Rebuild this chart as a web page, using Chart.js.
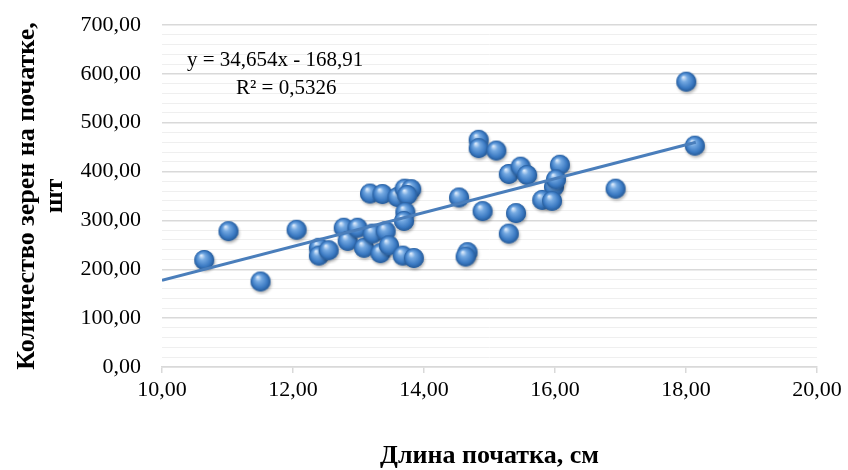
<!DOCTYPE html>
<html>
<head>
<meta charset="utf-8">
<script src="https://cdn.jsdelivr.net/npm/chart.js@4/dist/chart.umd.min.js"></script>
<style>
  html, body { margin: 0; padding: 0; background: #fff; overflow: hidden; }
</style>
</head>
<body>
<canvas id="chart" width="848" height="470"></canvas>
<script>
// длина початка, см
const lengths = [10.66, 11.03, 11.52, 12.07, 12.41, 12.41, 12.56, 12.79, 12.85, 13.00,
                 13.10, 13.19, 13.23, 13.35, 13.38, 13.43, 13.48, 13.61, 13.72, 13.82,
                 13.76, 13.73, 13.71, 13.69, 13.86, 14.55, 14.85, 14.85, 15.12, 14.91,
                 14.68, 14.65, 15.31, 15.49, 15.59, 15.42, 15.31, 16.09, 16.00, 16.03,
                 15.82, 15.97, 16.94, 18.02, 18.15];
// количество зерен на початке, шт
const grains = [217, 276, 173, 279, 242, 226, 237, 283, 256, 283,
                242, 353, 271, 231, 352, 276, 247, 346, 363, 362,
                350, 315, 297, 226, 221, 345, 463, 446, 441, 317,
                233, 224, 393, 408, 391, 313, 271, 412, 367, 382,
                340, 338, 363, 582, 451];

const trendSlope = 34.654;
const trendIntercept = -168.91;
const trendX = [10, 18.15];
const trendLabels = ['y = 34,654x - 168,91', 'R² = 0,5326'];

const xTicks = [10, 12, 14, 16, 18, 20];
const yTicks = [0, 100, 200, 300, 400, 500, 600, 700];

const fmt = v => v.toFixed(2).replace('.', ',');
const serif = '"Liberation Serif", "Times New Roman", serif';

// шарик как в Excel
function makeBall(r) {
    const size = r * 2 + 6;
    const c = document.createElement('canvas');
    c.width = size; c.height = size;
    const ctx = c.getContext('2d');
    const cx = size / 2 - 1, cy = size / 2 - 1;
    ctx.save();
    ctx.shadowColor = 'rgba(0,0,0,0.3)';
    ctx.shadowBlur = 3;
    ctx.shadowOffsetX = 1;
    ctx.shadowOffsetY = 2;
    ctx.beginPath();
    ctx.arc(cx, cy, r, 0, Math.PI * 2);
    ctx.fillStyle = '#3b78c0';
    ctx.fill();
    ctx.restore();
    const g = ctx.createRadialGradient(cx - r * 0.3, cy - r * 0.45, 0.5, cx, cy, r);
    g.addColorStop(0, '#dbeafb');
    g.addColorStop(0.3, '#74a9e2');
    g.addColorStop(0.75, '#3a79c2');
    g.addColorStop(1, '#255996');
    ctx.beginPath();
    ctx.arc(cx, cy, r, 0, Math.PI * 2);
    ctx.fillStyle = g;
    ctx.fill();
    return c;
}
const ball = makeBall(10);

const equationText = {
    id: 'equationText',
    afterDraw(chart) {
        const ctx = chart.ctx;
        ctx.save();
        ctx.fillStyle = '#000';
        ctx.font = '21px ' + serif;
        ctx.textBaseline = 'middle';
        ctx.textAlign = 'left';
        ctx.fillText(trendLabels[0], 187, 60);
        ctx.fillText(trendLabels[1], 236, 88);
        ctx.restore();
    }
};

new Chart(document.getElementById('chart').getContext('2d'), {
    type: 'scatter',
    data: {
        datasets: [
            {
                label: 'trend',
                type: 'line',
                data: trendX.map(x => ({ x: x, y: trendSlope * x + trendIntercept })),
                borderColor: '#4a7ebb',
                borderWidth: 3,
                pointRadius: 0,
                fill: false,
                order: 0
            },
            {
                label: 'points',
                data: lengths.map((x, i) => ({ x: x, y: grains[i] })),
                pointStyle: ball,
                pointRadius: 10,
                order: 1
            }
        ]
    },
    options: {
        responsive: false,
        animation: false,
        devicePixelRatio: 1,
        layout: { padding: { top: 25, right: 31, left: 0, bottom: 0 } },
        plugins: { legend: { display: false }, tooltip: { enabled: false } },
        scales: {
            x: {
                type: 'linear',
                min: 10,
                max: 20,
                afterBuildTicks: s => { s.ticks = xTicks.map(v => ({ value: v })); },
                afterFit: s => { s.height = 103; },
                grid: { color: 'rgba(0,0,0,0)', tickColor: '#d9d9d9', tickLength: 6, lineWidth: 1.5 },
                border: { color: '#d9d9d9', width: 1.5 },
                ticks: {
                    color: '#000',
                    padding: 4,
                    font: { family: serif, size: 22 },
                    callback: v => fmt(v)
                },
                title: {
                    display: true,
                    text: 'Длина початка, см',
                    color: '#000',
                    font: { family: serif, size: 26, weight: 'bold', lineHeight: 1.0 },
                    padding: { top: 0, bottom: 1 }
                }
            },
            y: {
                min: 0,
                max: 700,
                afterFit: s => { s.width = 162; },
                ticks: {
                    stepSize: 20,
                    autoSkip: false,
                    color: '#000',
                    padding: 0,
                    font: { family: serif, size: 22 },
                    callback: v => (yTicks.includes(v) ? fmt(v) : '')
                },
                grid: {
                    drawTicks: true,
                    tickLength: 21,
                    tickColor: 'rgba(0,0,0,0)',
                    color: c => (c.tick && c.tick.value % 100 === 0) ? '#d9d9d9' : '#efefef',
                    lineWidth: c => (c.tick && c.tick.value % 100 === 0) ? 1.5 : 1
                },
                border: { display: false },
                title: {
                    display: true,
                    text: ['Количество зерен на початке,', 'шт'],
                    color: '#000',
                    font: { family: serif, size: 26, weight: 'bold', lineHeight: 1.05 },
                    padding: { top: 14, bottom: 0 }
                }
            }
        }
    },
    plugins: [equationText]
});
</script>
</body>
</html>
